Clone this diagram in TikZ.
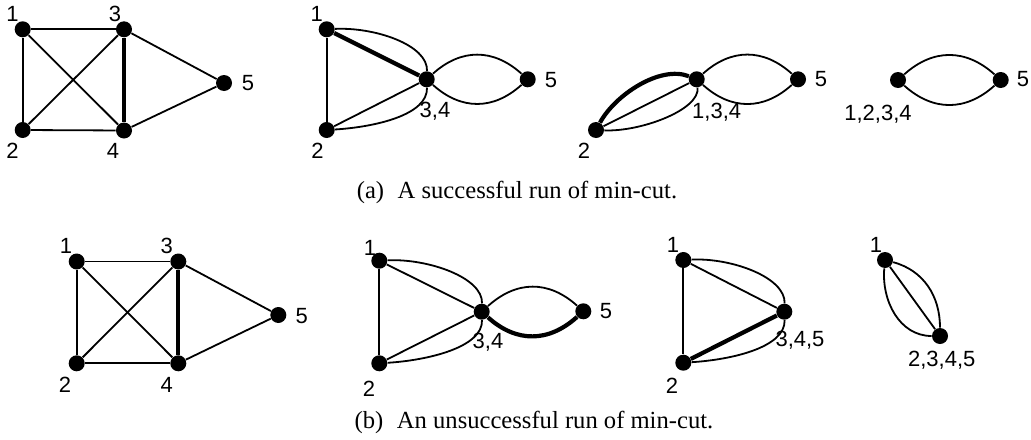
\documentclass[tikz,border=0pt]{standalone}
\usepackage{fontspec}
\setmainfont{Liberation Serif}
\newfontfamily\labfont{Liberation Sans}
\begin{document}
\begin{tikzpicture}[x=0.5pt,y=0.5pt,
  vtx/.style={circle,fill=black,inner sep=0pt,minimum size=8pt},
  lab/.style={font=\labfont\fontsize{11}{13}\selectfont,inner sep=0pt},
  edge/.style={line width=0.9pt},
  heavy/.style={line width=2.1pt},
  captext/.style={font=\fontsize{12.3}{14}\selectfont,inner sep=0pt,anchor=base}]
\useasboundingbox (0,0) rectangle (1031,-439);
% ---------- (a) panel 1
\node[vtx] (a11) at (22.7,-29.3) {};
\node[vtx] (a12) at (22.7,-130) {};
\node[vtx] (a13) at (124,-29.3) {};
\node[vtx] (a14) at (124,-130.5) {};
\node[vtx] (a15) at (224,-83) {};
\node[lab] (la11) at (12.5,-14) {1};
\node[lab] (la12) at (12.5,-151) {2};
\node[lab] (la13) at (115,-14) {3};
\node[lab] (la14) at (113,-151) {4};
\node[lab] (la15) at (248,-83) {5};
\draw[edge] (a11) -- (a12);
\draw[edge] (a11) -- (a13);
\draw[edge] (a11) -- (a14);
\draw[edge] (a12) -- (a13);
\draw[edge] (a12) -- (a14);
\draw[heavy] (a13) -- (a14);
\draw[edge] (a13) -- (a15);
\draw[edge] (a14) -- (a15);
% ---------- (a) panel 2
\node[vtx] (a21) at (326.7,-29.3) {};
\node[vtx] (a22) at (326.7,-130) {};
\node[vtx] (a234) at (426.7,-79.3) {};
\node[vtx] (a25) at (527.7,-79.3) {};
\node[lab] (la21) at (316.7,-14) {1};
\node[lab] (la22) at (317.5,-151) {2};
\node[lab] (la234) at (435,-111) {3,4};
\node[lab] (la25) at (551,-80) {5};
\draw[heavy] (a21) -- (a234);
\draw[edge] (a21) .. controls (375,-27) and (428,-45) .. (a234);
\draw[edge] (a21) -- (a22);
\draw[edge] (a22) -- (a234);
\draw[edge] (a22) .. controls (375,-127) and (428,-115) .. (a234);
\draw[edge] (a234) to[out=42,in=138,looseness=1.1] (a25);
\draw[edge] (a234) to[out=-42,in=-138,looseness=1.1] (a25);
% ---------- (a) panel 3
\node[vtx] (a32) at (596,-130) {};
\node[vtx] (a3134) at (696.7,-79.3) {};
\node[vtx] (a35) at (798,-79.3) {};
\node[lab] (la32) at (584,-151) {2};
\node[lab] (la3134) at (716.7,-112.5) {1,3,4};
\node[lab] (la35) at (821,-79) {5};
\draw[heavy] (a32) .. controls (615,-95) and (660,-65) .. (a3134);
\draw[edge] (a32) -- (a3134);
\draw[edge] (a32) .. controls (640,-132) and (700,-110) .. (a3134);
\draw[edge] (a3134) to[out=42,in=138,looseness=1.1] (a35);
\draw[edge] (a3134) to[out=-42,in=-138,looseness=1.1] (a35);
% ---------- (a) panel 4
\node[vtx] (a41234) at (898,-80) {};
\node[vtx] (a45) at (1000.7,-80) {};
\node[lab] (la41234) at (878,-114) {1,2,3,4};
\node[lab] (la45) at (1023,-79) {5};
\draw[edge] (a41234) to[out=42,in=138,looseness=1.1] (a45);
\draw[edge] (a41234) to[out=-42,in=-138,looseness=1.1] (a45);
% caption (a)
\node[captext] (capa) at (517,-198) {(a)\hspace{0.55em}A successful run of min-cut.};
% ---------- (b) panel 1
\node[vtx] (b11) at (76.7,-261.5) {};
\node[vtx] (b12) at (76.7,-363.3) {};
\node[vtx] (b13) at (178.3,-261.5) {};
\node[vtx] (b14) at (178.3,-363.3) {};
\node[vtx] (b15) at (278.3,-315) {};
\node[lab] (lb11) at (66,-246) {1};
\node[lab] (lb12) at (65,-385) {2};
\node[lab] (lb13) at (166.7,-246) {3};
\node[lab] (lb14) at (166.7,-385) {4};
\node[lab] (lb15) at (301.7,-315.8) {5};
\draw[edge] (b11) -- (b12);
\draw[edge] (b11) -- (b13);
\draw[edge] (b11) -- (b14);
\draw[edge] (b12) -- (b13);
\draw[edge] (b12) -- (b14);
\draw[heavy] (b13) -- (b14);
\draw[edge] (b13) -- (b15);
\draw[edge] (b14) -- (b15);
% ---------- (b) panel 2
\node[vtx] (b21) at (379.3,-260.7) {};
\node[vtx] (b22) at (379.3,-363.3) {};
\node[vtx] (b234) at (481.7,-311.7) {};
\node[vtx] (b25) at (583.3,-311.3) {};
\node[lab] (lb21) at (370,-248) {1};
\node[lab] (lb22) at (369,-389) {2};
\node[lab] (lb234) at (488,-342.5) {3,4};
\node[lab] (lb25) at (606,-311) {5};
\draw[edge] (b21) -- (b234);
\draw[edge] (b21) .. controls (427.6,-258.4) and (483,-277.4) .. (b234);
\draw[edge] (b21) -- (b22);
\draw[edge] (b22) -- (b234);
\draw[edge] (b22) .. controls (427.6,-360.3) and (483,-347.4) .. (b234);
\draw[edge] (b234) to[out=42,in=138,looseness=1.1] (b25);
\draw[heavy] (b234) to[out=-42,in=-138,looseness=1.1] (b25);
% ---------- (b) panel 3
\node[vtx] (b31) at (683.3,-260) {};
\node[vtx] (b32) at (683.3,-362.7) {};
\node[vtx] (b3345) at (784.3,-311.7) {};
\node[lab] (lb31) at (673,-245) {1};
\node[lab] (lb32) at (672,-386) {2};
\node[lab] (lb3345) at (800,-340) {3,4,5};
\draw[edge] (b31) -- (b3345);
\draw[edge] (b31) .. controls (731.6,-257.7) and (785.6,-277.4) .. (b3345);
\draw[edge] (b31) -- (b32);
\draw[heavy] (b32) -- (b3345);
\draw[edge] (b32) .. controls (731.6,-359.7) and (785.6,-347.4) .. (b3345);
% ---------- (b) panel 4
\node[vtx] (b41) at (885,-260) {};
\node[vtx] (b42345) at (940,-336) {};
\node[lab] (lb41) at (876,-245) {1};
\node[lab] (lb42345) at (941.7,-360) {2,3,4,5};
\draw[edge] (b41) -- (b42345);
\draw[edge] (b41) to[out=-95,in=180] (b42345);
\draw[edge] (b41) to[out=-15,in=90] (b42345);
% caption (b)
\node[captext] (capb) at (534,-428) {(b)\hspace{0.55em}An unsuccessful run of min-cut.};
\end{tikzpicture}
\end{document}
